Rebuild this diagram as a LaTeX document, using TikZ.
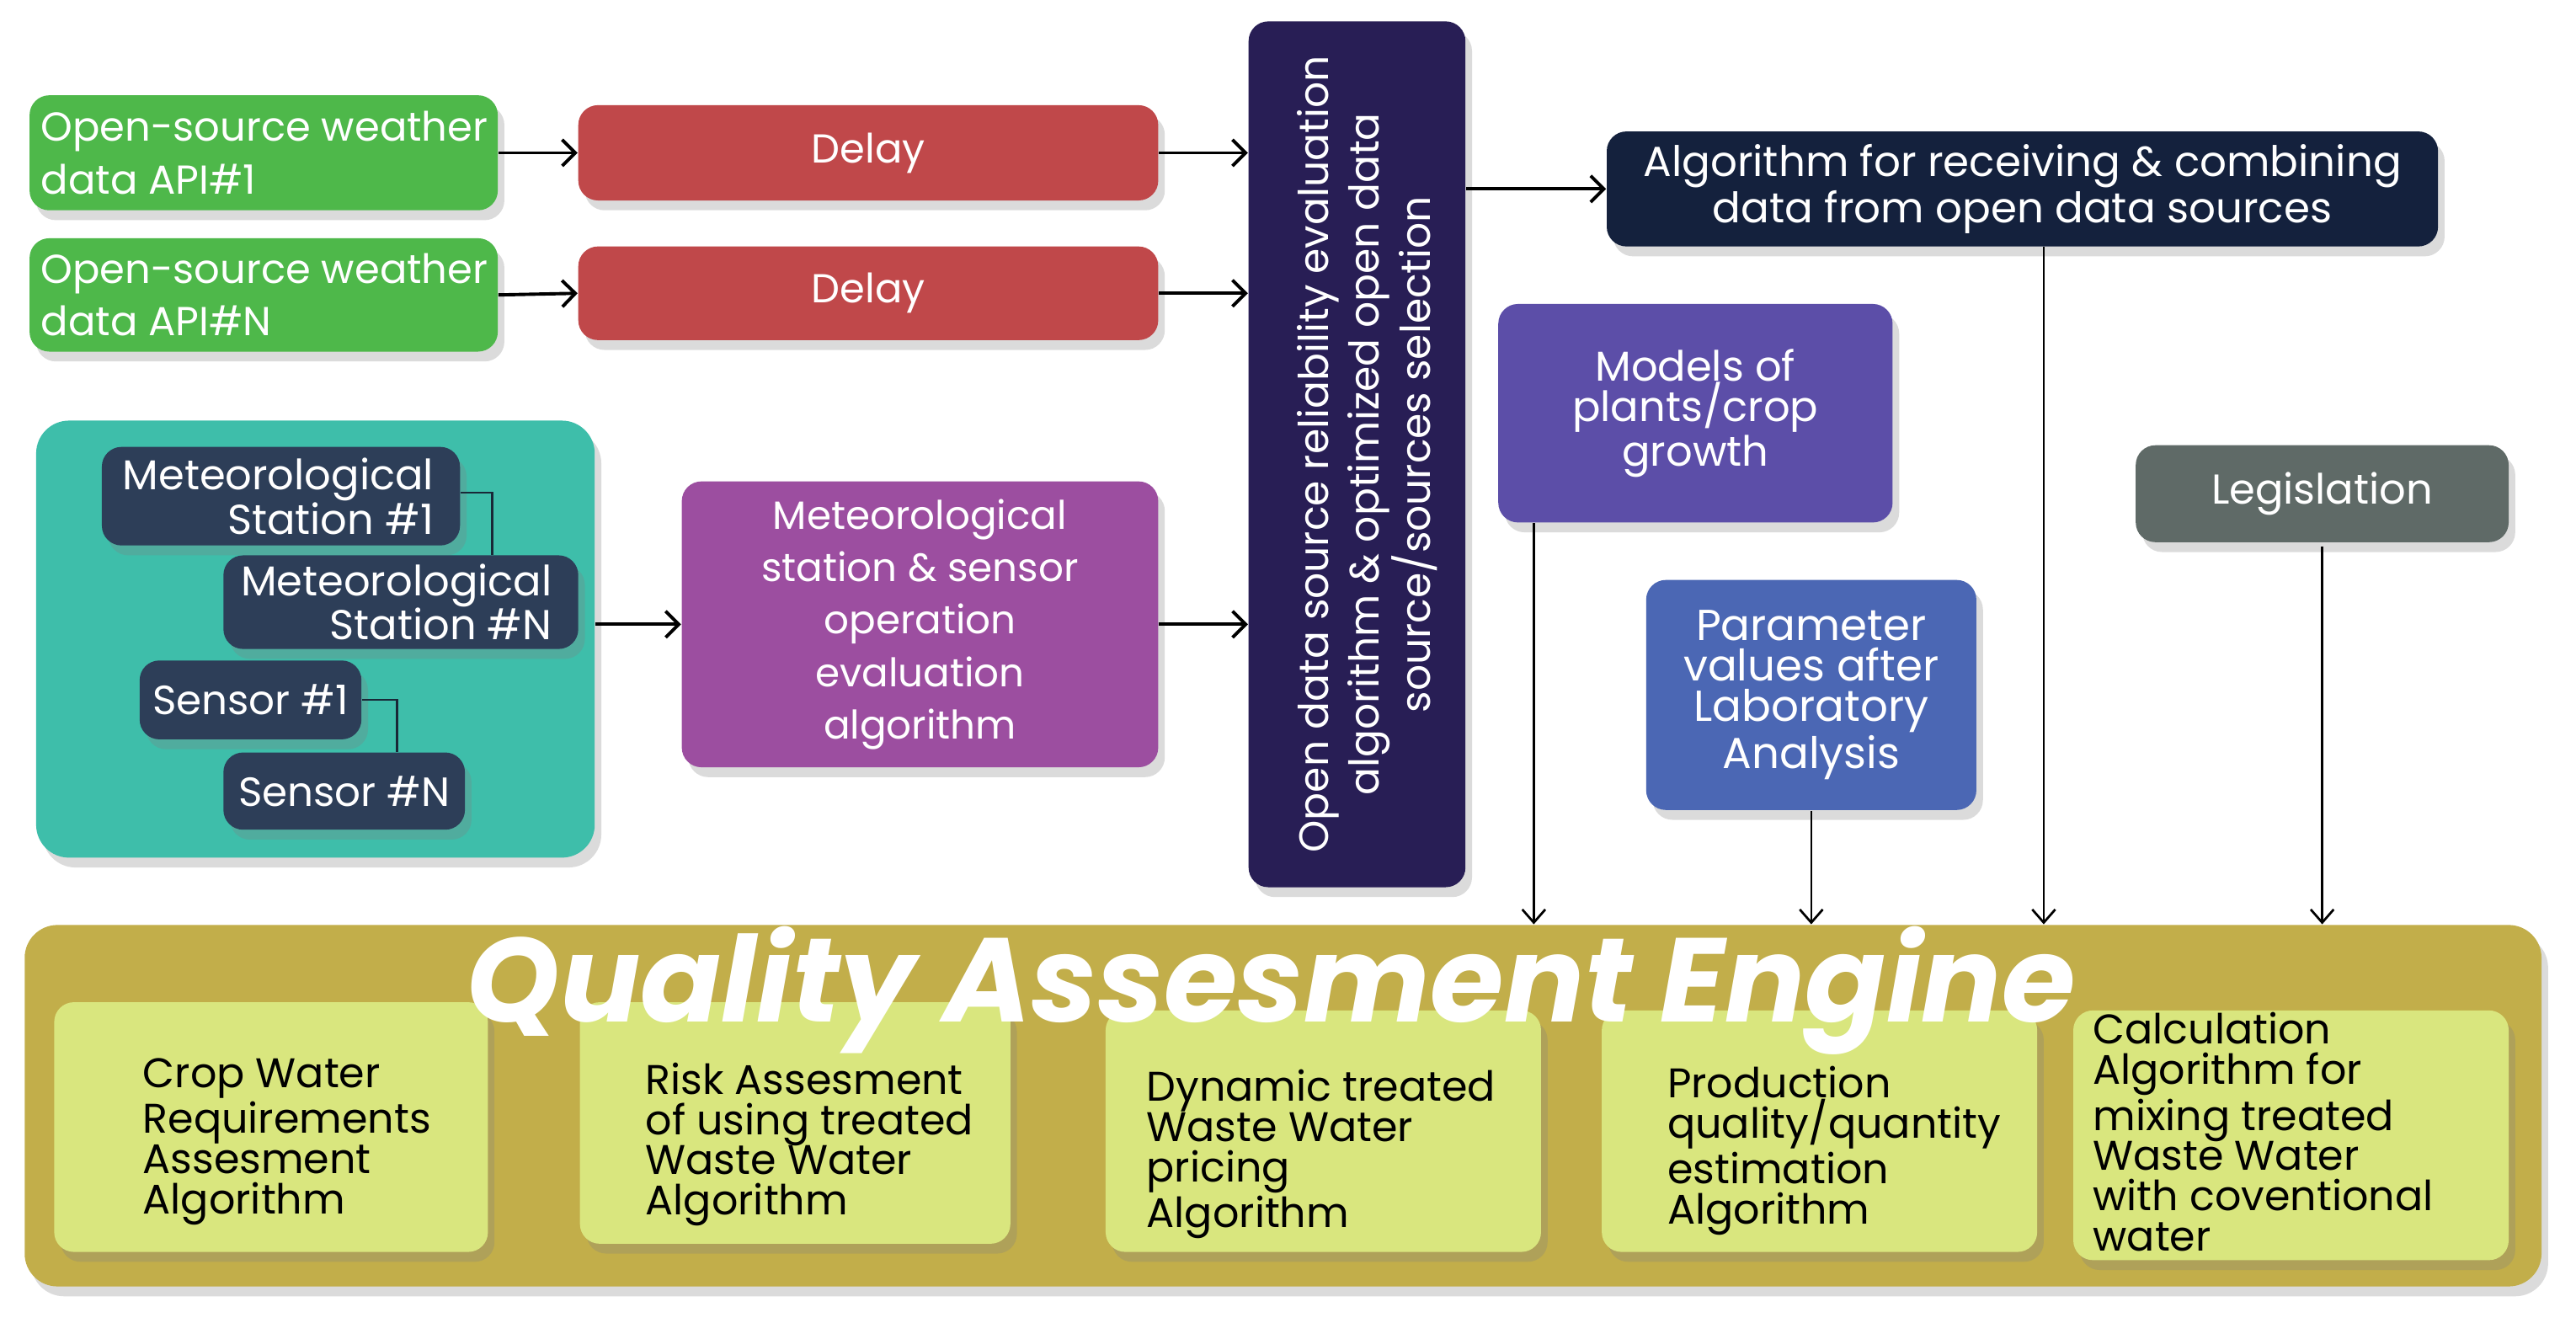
\documentclass[tikz,border=0pt]{standalone}
\usepackage{fontspec}
\setmainfont{Poppins}
\usetikzlibrary{arrows.meta,shadows,calc}
\definecolor{cgreen}{RGB}{78,184,74}
\definecolor{cred}{RGB}{192,72,74}
\definecolor{ctall}{RGB}{40,30,85}
\definecolor{cteal}{RGB}{62,190,170}
\definecolor{cslate}{RGB}{45,62,88}
\definecolor{cpurple}{RGB}{156,78,160}
\definecolor{calgo}{RGB}{20,33,61}
\definecolor{cmodels}{RGB}{92,78,168}
\definecolor{cparam}{RGB}{75,103,180}
\definecolor{clegis}{RGB}{95,106,103}
\definecolor{colive}{RGB}{194,174,74}
\definecolor{clight}{RGB}{217,230,126}
\definecolor{cline}{RGB}{25,40,55}
\tikzset{
  box/.style={rounded corners=6pt, inner sep=0pt, text=white, align=center,
    drop shadow={opacity=0.28, shadow xshift=2pt, shadow yshift=-3pt}},
  arr/.style={line width=1pt, -{Straight Barb[length=4pt,width=8pt]}},
  varr/.style={line width=0.7pt, -{Straight Barb[length=4pt,width=7pt]}},
  link/.style={line width=0.6pt, draw=cline},
  wtext/.style={inner sep=0pt, text=white, align=right, font=\fontsize{12.7}{13.5}\selectfont},
  gtext/.style={anchor=west, inner sep=0pt, text=white, align=left, font=\fontsize{12.3}{16}\selectfont},
  itext/.style={anchor=west, align=left, inner sep=0pt, text=black,
    font=\fontsize{12.6}{12.25}\selectfont},
  ttl/.style={anchor=base, inner sep=0pt, font=\fontsize{36.3}{36}\bfseries\itshape\selectfont},
}
\begin{document}
\begin{tikzpicture}[x=0.5pt,y=-0.5pt]
\useasboundingbox[fill=white] (0,0) rectangle (1568,805);

% green sources
\node[box, fill=cgreen, minimum width=142.5pt, minimum height=35pt] (g1) at (160.5,93) {};
\node[gtext] (g1t) at ([xshift=3.5pt]g1.west) {Open-source weather\\data API\#1};
\node[box, fill=cgreen, minimum width=142.5pt, minimum height=34.5pt] (g2) at (160.5,179.5) {};
\node[gtext] (g2t) at ([xshift=3.5pt]g2.west) {Open-source weather\\data API\#N};

% delays
\node[box, fill=cred, minimum width=176.5pt, minimum height=29pt, font=\fontsize{12.3}{14}\selectfont] (d1) at (528.5,93) {Delay};
\node[box, fill=cred, minimum width=176.5pt, minimum height=28.5pt, font=\fontsize{12.3}{14}\selectfont] (d2) at (528.5,178.5) {Delay};

% tall box
\node[box, fill=ctall, minimum width=66pt, minimum height=263.5pt] (tall) at (826,276.5) {};
\node[rotate=90, text=white, align=center, inner sep=0pt, font=\fontsize{12.5}{15.5}\selectfont] (tallt) at ([xshift=3pt]tall.center)
  {Open data source reliability evaluation\\algorithm \& optimized open data\\source/sources selection};

% teal group
\node[box, rounded corners=10pt, fill=cteal, minimum width=170pt, minimum height=133pt] (teal) at (192,389) {};
\node[box, fill=cslate, minimum width=109pt, minimum height=30pt] (ms1) at (171,302) {};
\node[wtext, anchor=east] (ms1t) at ([xshift=-8pt]ms1.east) {Meteorological\\Station \#1};
\node[box, fill=cslate, minimum width=108pt, minimum height=28.5pt] (msn) at (244,366.5) {};
\node[wtext, anchor=east] (msnt) at ([xshift=-8pt]msn.east) {Meteorological\\Station \#N};
\node[box, fill=cslate, minimum width=67.5pt, minimum height=24pt, font=\fontsize{12.4}{13.5}\selectfont] (s1) at (152.5,426) {Sensor \#1};
\node[box, fill=cslate, minimum width=73.5pt, minimum height=23.5pt, font=\fontsize{12.4}{13.5}\selectfont] (sn) at (209.5,481.5) {Sensor \#N};
\draw[link] ([yshift=1pt]ms1.east) -| ([xshift=82pt]msn.north west);
\draw[link] (s1.east) -| ([xshift=53pt]sn.north west);

% purple
\node[box, fill=cpurple, minimum width=145pt, minimum height=87pt, font=\fontsize{12}{16}\selectfont] (purp) at (560,380)
  {Meteorological\\station \& sensor\\operation\\evaluation\\algorithm};

% algorithm box
\node[box, fill=calgo, minimum width=253pt, minimum height=35pt, font=\fontsize{12.8}{11.8}\selectfont] (algo) at (1231,115)
  {Algorithm for receiving \& combining\\data from open data sources};

% models, parameter, legislation
\node[box, fill=cmodels, minimum width=120pt, minimum height=66.5pt, font=\fontsize{12.7}{12.25}\selectfont] (models) at (1032,251.5)
  {Models of\\plants/crop\\growth};
\node[box, fill=cparam, minimum width=100.5pt, minimum height=70pt, font=\fontsize{13.2}{12.25}\selectfont] (param) at (1102.5,423)
  {Parameter\\values after\\Laboratory\\Analysis};
\node[box, fill=clegis, minimum width=113.5pt, minimum height=29.5pt, font=\fontsize{12.7}{13}\selectfont] (legis) at (1413.5,300.5)
  {Legislation};

% QAE
\node[box, rounded corners=10pt, fill=colive, minimum width=766pt, minimum height=110pt] (qae) at (781,673) {};
\node[box, fill=clight, minimum width=132pt, minimum height=76pt] (in1) at (165,686) {};
\node[box, fill=clight, minimum width=131pt, minimum height=73.5pt] (in2) at (484,683.5) {};
\node[box, fill=clight, minimum width=132.5pt, minimum height=73.5pt] (in3) at (805.5,688.5) {};
\node[box, fill=clight, minimum width=132.5pt, minimum height=73.5pt] (in4) at (1107.5,688.5) {};
\node[box, fill=clight, minimum width=132.5pt, minimum height=76pt] (in5) at (1394.5,691) {};
\node[itext] (t1) at ([xshift=27pt,yshift=-4.5pt]in1.west) {Crop Water\\Requirements\\Assesment\\Algorithm};
\node[itext] (t2) at ([xshift=20pt,yshift=-6.5pt]in2.west) {Risk Assesment\\of using treated\\Waste Water\\Algorithm};
\node[itext] (t3) at ([xshift=12.5pt,yshift=-7pt]in3.west) {Dynamic treated\\Waste Water\\pricing\\Algorithm};
\node[itext] (t4) at ([xshift=20pt,yshift=-6pt]in4.west) {Production\\quality/quantity\\estimation\\Algorithm};
\node[itext] (t5) at ([xshift=6pt,yshift=1pt]in5.west) {Calculation\\Algorithm for\\mixing treated\\Waste Water\\with coventional\\water};

% title
\node[ttl, text=white] (qt) at (773.5,622) {Quality Assesment Engine};

% arrows
\draw[arr] (g1.east) -- (d1.west);
\draw[arr] (g2.east) -- (d2.west);
\draw[arr] (d1.east) -- (d1.east -| tall.west);
\draw[arr] (d2.east) -- (d2.east -| tall.west);
\draw[arr] (teal.east |- purp.west) -- (purp.west);
\draw[arr] (purp.east) -- (purp.east -| tall.west);
\draw[arr] (tall.east |- algo.west) -- (algo.west);
\draw[varr] ([xshift=11pt]models.south west) -- ([xshift=11pt]models.south west |- qae.north);
\draw[varr] (param.south) -- (param.south |- qae.north);
\draw[varr] ([xshift=6.5pt]algo.south) -- ([xshift=6.5pt]algo.south |- qae.north);
\draw[varr] ([yshift=-1pt]legis.south) -- (legis.south |- qae.north);
\end{tikzpicture}
\end{document}
